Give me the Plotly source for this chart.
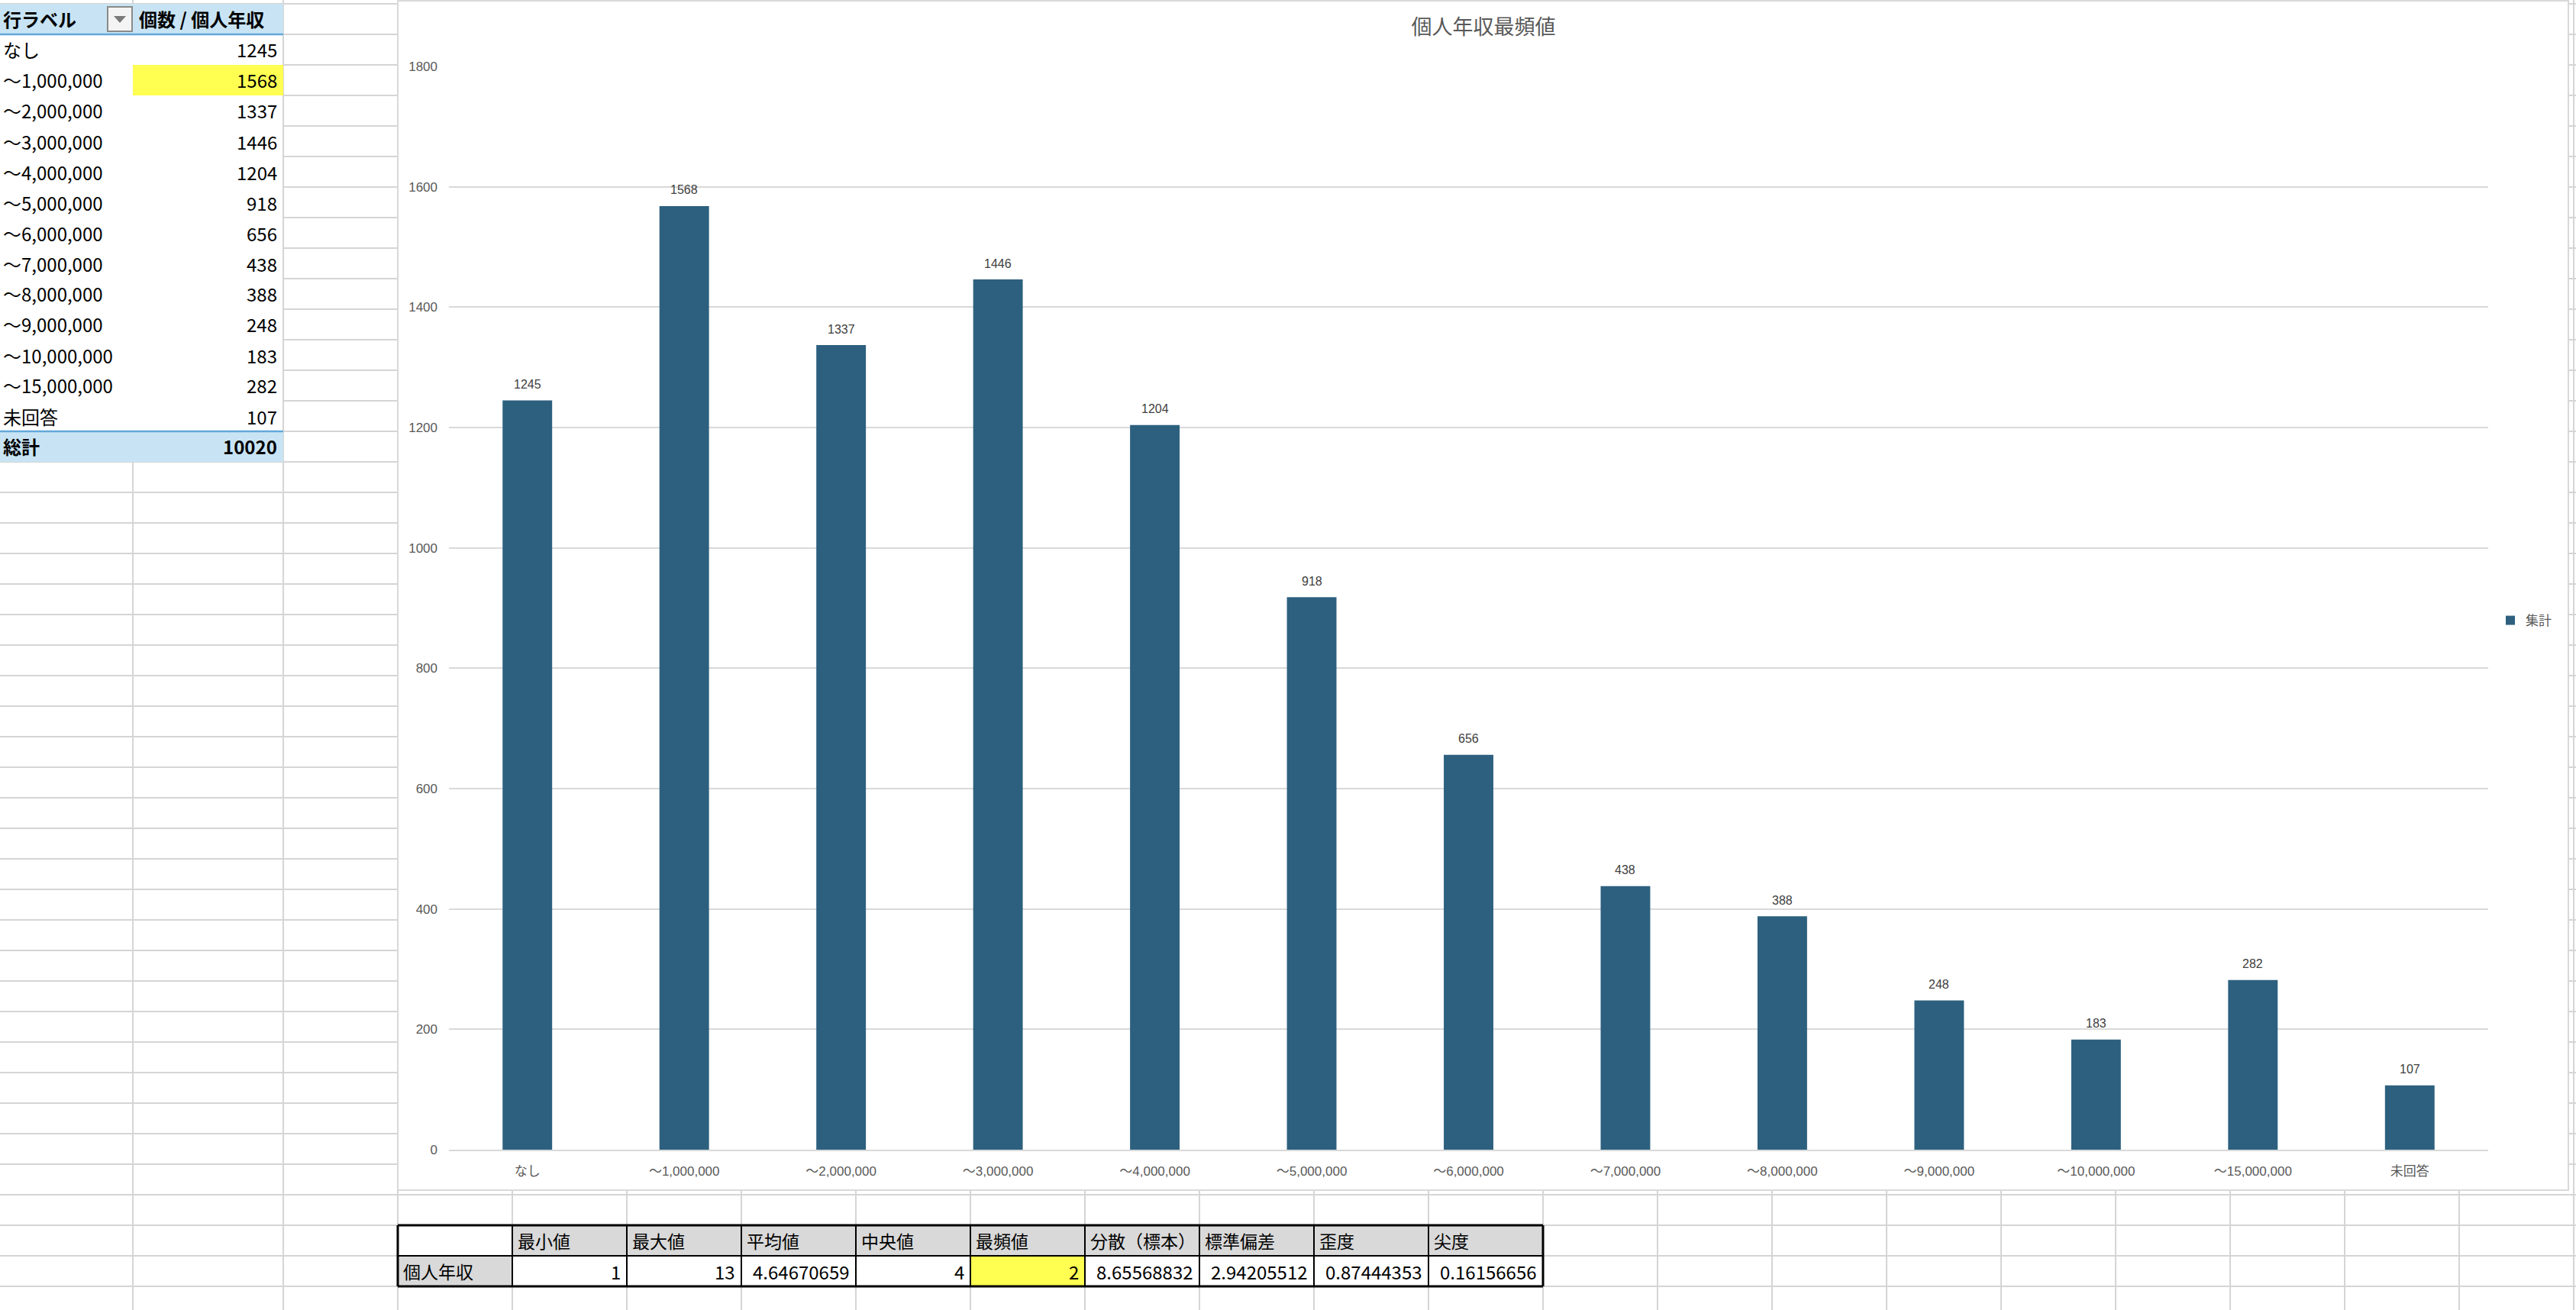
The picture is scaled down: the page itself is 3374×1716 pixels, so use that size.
import plotly.graph_objects as go

# ---------------- data ----------------
categories = ["なし", "〜1,000,000", "〜2,000,000", "〜3,000,000", "〜4,000,000",
              "〜5,000,000", "〜6,000,000", "〜7,000,000", "〜8,000,000",
              "〜9,000,000", "〜10,000,000", "〜15,000,000", "未回答"]
counts = [1245, 1568, 1337, 1446, 1204, 918, 656, 438, 388, 248, 183, 282, 107]
total_count = 10020
series_name = "集計"
chart_title = "個人年収最頻値"
pivot_headers = ["行ラベル", "個数 / 個人年収"]
total_label = "総計"
highlight_category = "〜1,000,000"

stat_row_label = "個人年収"
stat_labels = ["最小値", "最大値", "平均値", "中央値", "最頻値", "分散（標本）", "標準偏差", "歪度", "尖度"]
stat_values = [1, 13, 4.64670659, 4, 2, 8.65568832, 2.94205512, 0.87444353, 0.16156656]
highlight_stat = "最頻値"

# ---------------- geometry helpers (pixels -> paper) ----------------
W, H = 3374, 1716
def px(x): return x / W
def py(y): return 1 - y / H

GRID = "#d5d5d5"
CJK = "Noto Sans CJK JP, Noto Sans, sans-serif"
CHART_FONT = "Liberation Sans, Noto Sans CJK JP, sans-serif"

shapes = []
def rect(x0, y0, x1, y1, fill, lc=None, lw=0):
    shapes.append(dict(type="rect", xref="paper", yref="paper", layer="below",
                       x0=px(x0), x1=px(x1), y0=py(y1), y1=py(y0),
                       fillcolor=fill, line=dict(width=lw, color=lc or fill)))
def line(x0, y0, x1, y1, color, w):
    shapes.append(dict(type="line", xref="paper", yref="paper", layer="below",
                       x0=px(x0), x1=px(x1), y0=py(y0), y1=py(y1),
                       line=dict(width=w, color=color)))

ROW0, ROWH = 5, 40
COLS_LEFT = [174, 371, 521]
COLW = 150

# spreadsheet grid
y = ROW0
while y <= H:
    line(0, y, W, y, GRID, 2)
    y += ROWH
for x in COLS_LEFT:
    line(x, 0, x, H, GRID, 2)
x = 521 + COLW
while x <= W:
    line(x, 0, x, H, GRID, 2)
    x += COLW

# pivot table background
n_rows = len(categories)
piv_top = ROW0
piv_bottom = ROW0 + ROWH * (n_rows + 2)
rect(0, piv_top, 370, piv_bottom, "white")

# chart box
rect(521, 1, 3364, 1559, "white", "#d9d9d9", 2)

# pivot header/total fills
HEAD_FILL = "#c8e4f4"
BLUE = "#62a8dc"
rect(0, piv_top, 371, piv_top + ROWH, HEAD_FILL)
line(0, piv_top + ROWH, 371, piv_top + ROWH, BLUE, 2.5)
tot_y0 = piv_top + ROWH * (n_rows + 1)
rect(0, tot_y0, 371, tot_y0 + ROWH, HEAD_FILL)
line(0, tot_y0, 371, tot_y0, BLUE, 2.5)
hi = categories.index(highlight_category)
rect(174, piv_top + ROWH * (hi + 1), 371, piv_top + ROWH * (hi + 2), "#ffff52")

# dropdown button
shapes.append(dict(type="rect", xref="paper", yref="paper", layer="below",
                   x0=px(141), x1=px(173), y0=py(41), y1=py(9),
                   fillcolor="#f4f4f4", line=dict(width=2, color="#8a8a8a")))
shapes.append(dict(type="path", xref="paper", yref="paper", layer="below",
                   path=f"M {px(149)} {py(21)} L {px(165)} {py(21)} L {px(157)} {py(30)} Z",
                   fillcolor="#7a7a7a", line=dict(width=0)))

# stats table
st_top, st_mid, st_bot = 1605, 1645, 1685
st_left = 521
st_right = st_left + COLW * (len(stat_labels) + 1)
rect(st_left + COLW, st_top, st_right, st_mid, "#d9d9d9")
rect(st_left, st_mid, st_left + COLW, st_bot, "#d9d9d9")
hs = stat_labels.index(highlight_stat)
rect(st_left + COLW * (hs + 1), st_mid, st_left + COLW * (hs + 2), st_bot, "#ffff52")
for yy in (st_top, st_mid, st_bot):
    line(st_left, yy, st_right, yy, "black", 3 if yy != st_mid else 2)
for k in range(len(stat_labels) + 2):
    xx = st_left + COLW * k
    line(xx, st_top, xx, st_bot, "black", 3 if k in (0, len(stat_labels) + 1) else 2)

# ---------------- annotations ----------------
ann = []
def text(x, y, s, anchor="left", size=24, bold=False, color="black", family=CJK):
    ann.append(dict(xref="paper", yref="paper", x=px(x), y=py(y), text=f"<b>{s}</b>" if bold else s,
                    showarrow=False, xanchor=anchor, yanchor="middle",
                    font=dict(size=size, color=color, family=family)))

text(2, piv_top + ROWH / 2, pivot_headers[0], bold=True)
text(180, piv_top + ROWH / 2, pivot_headers[1], bold=True)
for i, (c, v) in enumerate(zip(categories, counts)):
    yc = piv_top + ROWH * (i + 1) + ROWH / 2
    text(2, yc, c)
    text(365, yc, str(v), anchor="right")
text(2, tot_y0 + ROWH / 2, total_label, bold=True)
text(365, tot_y0 + ROWH / 2, str(total_count), anchor="right", bold=True)

for i, lab in enumerate(stat_labels):
    text(st_left + COLW * (i + 1) + 5, (st_top + st_mid) / 2, lab, size=23)
    text(st_left + COLW * (i + 2) - 6, (st_mid + st_bot) / 2, str(stat_values[i]), anchor="right", size=24)
text(st_left + 5, (st_mid + st_bot) / 2, stat_row_label, size=23)

# data labels above bars
for c, v in zip(categories, counts):
    ann.append(dict(xref="x", yref="y", x=c, y=v, text=str(v), showarrow=False,
                    yanchor="middle", yshift=21,
                    font=dict(size=16, color="#404040", family=CHART_FONT)))

# ---------------- figure ----------------
fig = go.Figure()
fig.add_trace(go.Bar(x=categories, y=counts, name=series_name,
                     marker=dict(color="#2d607f", line=dict(width=0)),
                     showlegend=True))

fig.update_layout(
    width=W, height=H, autosize=False,
    margin=dict(l=0, r=0, t=0, b=0, pad=0, autoexpand=False),
    paper_bgcolor="white", plot_bgcolor="rgba(0,0,0,0)",
    bargap=0.684,
    title=dict(text=chart_title, x=px(1943), y=py(36), xanchor="center", yanchor="middle",
               xref="paper", yref="paper", automargin=False,
               font=dict(size=27, color="#595959", family=CHART_FONT)),
    xaxis=dict(domain=[px(588), px(3259)], showline=True, linecolor="#d9d9d9", linewidth=2,
               ticks="", showgrid=False, ticklabelstandoff=12, automargin=False,
               tickfont=dict(size=17, color="#595959", family=CHART_FONT)),
    yaxis=dict(domain=[py(1506), py(87)], range=[0, 1800], dtick=200, showgrid=True,
               gridcolor="#d9d9d9", gridwidth=2, zeroline=False, showline=False, ticks="",
               ticklabelstandoff=14, automargin=False,
               tickfont=dict(size=17, color="#595959", family=CHART_FONT)),
    legend=dict(x=px(3268), y=py(813), xanchor="left", yanchor="middle",
                bgcolor="rgba(0,0,0,0)", borderwidth=0,
                font=dict(size=17, color="#595959", family=CHART_FONT)),
    shapes=shapes,
    annotations=ann,
)

fig.write_html("out.html", config={"displayModeBar": False},
               post_script="document.body.style.margin='0';document.body.style.overflow='hidden';")
